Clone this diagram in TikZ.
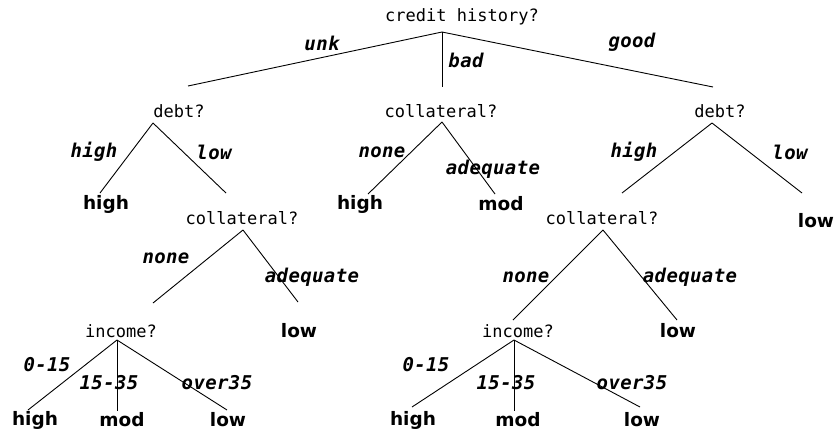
\documentclass[tikz,border=0pt]{standalone}
\usepackage{fontspec}
\newfontfamily\qfont{DejaVu Sans Mono}
\newfontfamily\lblfont[LetterSpace=2]{DejaVu Sans Mono}
\newfontfamily\leaffont{DejaVu Sans}
\usepackage{tikz}
\pgfdeclarelayer{edgelayer}
\pgfdeclarelayer{nodelayer}
\pgfsetlayers{edgelayer,nodelayer,main}
\tikzstyle{question}=[inner sep=0pt, font={\fontsize{17}{19}\qfont}]
\tikzstyle{leaf}=[inner sep=0pt, font={\fontsize{18.5}{20}\leaffont\bfseries}]
\tikzstyle{branch}=[inner sep=0pt, font={\fontsize{19}{21}\lblfont\bfseries\itshape}]
\tikzstyle{edge}=[draw=black, line width=0.9pt]

\begin{document}
\begin{tikzpicture}[x=1pt, y=-1pt]
	\useasboundingbox (0,0) rectangle (837,432);
	\begin{pgfonlayer}{nodelayer}

	%questions
		\node [style=question] (root) at (462,17) {credit history?};
		\node [style=question] (debtA) at (179,111) {debt?};
		\node [style=question] (collA) at (441,111) {collateral?};
		\node [style=question] (debtB) at (720,111) {debt?};
		\node [style=question] (collB) at (242,218) {collateral?};
		\node [style=question] (collC) at (602,218) {collateral?};
		\node [style=question] (incA) at (121,331) {income?};
		\node [style=question] (incB) at (518,331) {income?};

	%leaves
		\node [style=leaf] (l1) at (106,204) {high};
		\node [style=leaf] (l2) at (360,204) {high};
		\node [style=leaf] (l3) at (501,204) {mod};
		\node [style=leaf] (l4) at (816,221) {low};
		\node [style=leaf] (l5) at (299,331) {low};
		\node [style=leaf] (l6) at (678,331) {low};
		\node [style=leaf] (l7) at (35,420) {high};
		\node [style=leaf] (l8) at (122,420) {mod};
		\node [style=leaf] (l9) at (228,420) {low};
		\node [style=leaf] (l10) at (413,420) {high};
		\node [style=leaf] (l11) at (518,420) {mod};
		\node [style=leaf] (l12) at (642,420) {low};

	%branch points and line ends
		\coordinate (root-b) at (442,32);
		\coordinate (debtA-t) at (188,86);
		\coordinate (debtA-b) at (153,123);
		\coordinate (collA-t) at (442,87);
		\coordinate (collA-b) at (442,122);
		\coordinate (debtB-t) at (713,87);
		\coordinate (debtB-b) at (712,123);
		\coordinate (l1-t) at (100,193);
		\coordinate (collB-t) at (226,193);
		\coordinate (collB-b) at (243,230);
		\coordinate (l2-t) at (368,194);
		\coordinate (l3-t) at (495,194);
		\coordinate (collC-t) at (622,193);
		\coordinate (collC-b) at (603,230);
		\coordinate (l4-t) at (802,193);
		\coordinate (incA-t) at (153,303);
		\coordinate (incA-b) at (117,340);
		\coordinate (l5-t) at (298,302);
		\coordinate (incB-t) at (513,320);
		\coordinate (incB-b) at (514,340);
		\coordinate (l6-t) at (677,320);
		\coordinate (l7-t) at (28,410);
		\coordinate (l8-t) at (117,411);
		\coordinate (l9-t) at (227,410);
		\coordinate (l10-t) at (412,407);
		\coordinate (l11-t) at (514,411);
		\coordinate (l12-t) at (640,407);

	%branch labels
		\node [style=branch] (unk) at (322,43) {unk};
		\node [style=branch] (bad) at (466,60) {bad};
		\node [style=branch] (good) at (632,42) {good};
		\node [style=branch] (hiA) at (94,152) {high};
		\node [style=branch] (loA) at (214,152) {low};
		\node [style=branch] (noA) at (382,152) {none};
		\node [style=branch] (adA) at (493,169) {adequate};
		\node [style=branch] (hiB) at (634,152) {high};
		\node [style=branch] (loB) at (790,152) {low};
		\node [style=branch] (noB) at (166,258) {none};
		\node [style=branch] (adB) at (312,277) {adequate};
		\node [style=branch] (noC) at (526,277) {none};
		\node [style=branch] (adC) at (690,277) {adequate};
		\node [style=branch] (inA1) at (47,365) {0-15};
		\node [style=branch] (inA2) at (109,383) {15-35};
		\node [style=branch] (inA3) at (217,383) {over35};
		\node [style=branch] (inB1) at (426,365) {0-15};
		\node [style=branch] (inB2) at (506,383) {15-35};
		\node [style=branch] (inB3) at (632,383) {over35};

	\end{pgfonlayer}
	\begin{pgfonlayer}{edgelayer}

		%credit history
		\draw [style=edge] (root-b) to (debtA-t);
		\draw [style=edge] (root-b) to (collA-t);
		\draw [style=edge] (root-b) to (debtB-t);

		%unk
		\draw [style=edge] (debtA-b) to (l1-t);
		\draw [style=edge] (debtA-b) to (collB-t);
		\draw [style=edge] (collB-b) to (incA-t);
		\draw [style=edge] (collB-b) to (l5-t);
		\draw [style=edge] (incA-b) to (l7-t);
		\draw [style=edge] (incA-b) to (l8-t);
		\draw [style=edge] (incA-b) to (l9-t);

		%bad
		\draw [style=edge] (collA-b) to (l2-t);
		\draw [style=edge] (collA-b) to (l3-t);

		%good
		\draw [style=edge] (debtB-b) to (collC-t);
		\draw [style=edge] (debtB-b) to (l4-t);
		\draw [style=edge] (collC-b) to (incB-t);
		\draw [style=edge] (collC-b) to (l6-t);
		\draw [style=edge] (incB-b) to (l10-t);
		\draw [style=edge] (incB-b) to (l11-t);
		\draw [style=edge] (incB-b) to (l12-t);

	\end{pgfonlayer}
\end{tikzpicture}
\end{document}
